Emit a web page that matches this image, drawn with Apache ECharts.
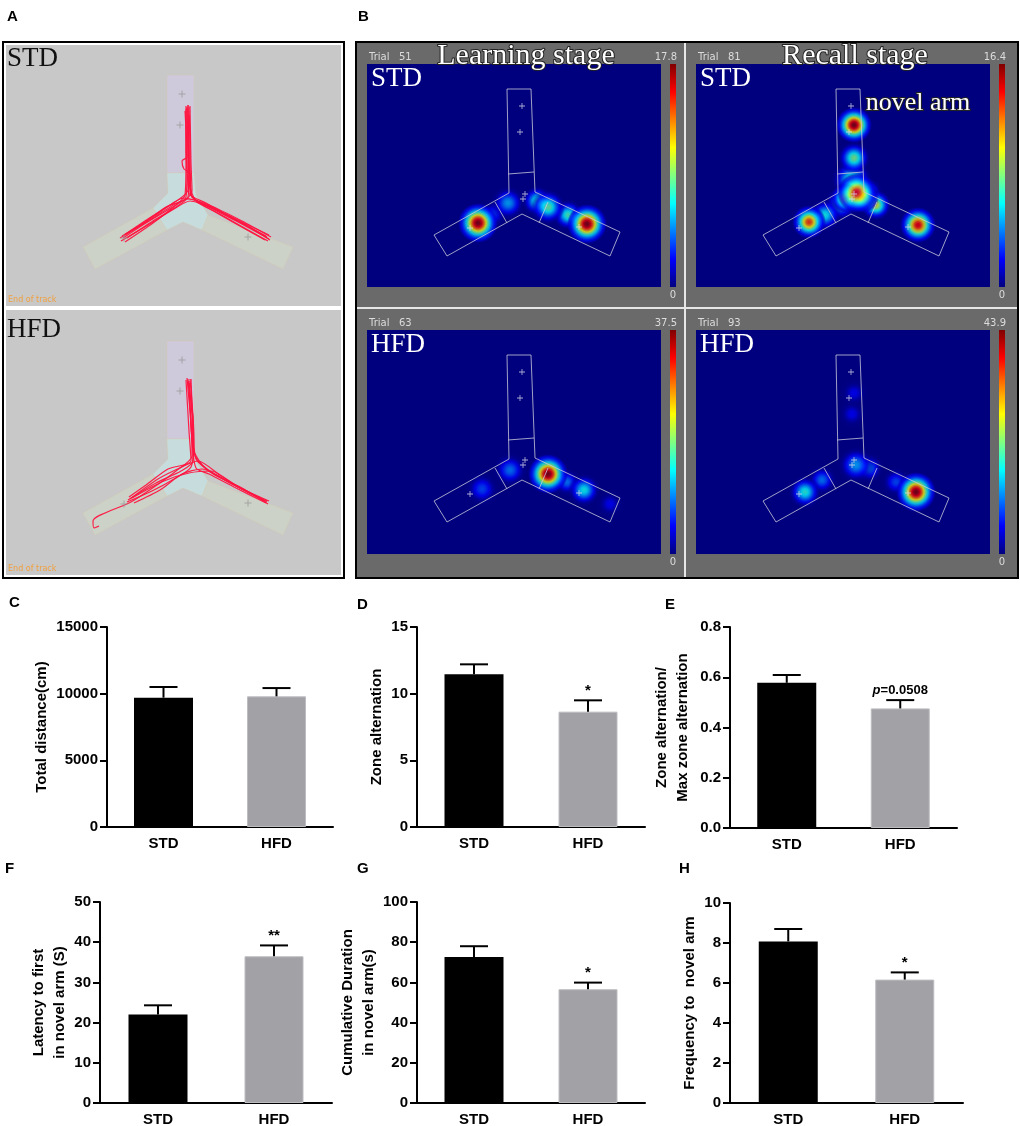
<!DOCTYPE html>
<html>
<head>
<meta charset="utf-8">
<script src="https://cdn.jsdelivr.net/npm/echarts@6/dist/echarts.min.js"></script>
<style>
html, body { margin: 0; padding: 0; background: #fff; }
#chart { width: 1020px; height: 1126px; }
</style>
</head>
<body>
<div id="chart"></div>
<script>
const groups = ['STD', 'HFD'];
const distMean = [9700, 9800];
const distSem = [800, 620];
const altMean = [11.45, 8.65];
const altSem = [0.75, 0.85];
const ratioMean = [0.578, 0.476];
const ratioSem = [0.031, 0.033];
const latMean = [22.0, 36.5];
const latSem = [2.3, 2.7];
const durMean = [72.6, 56.6];
const durSem = [5.4, 3.3];
const freqMean = [8.08, 6.17];
const freqSem = [0.62, 0.36];
const sigC = ['', ''];
const sigD = ['', '*'];
const sigE = ['', 'p=0.0508'];
const sigF = ['', '**'];
const sigG = ['', '*'];
const sigH = ['', '*'];

// panel A: Y-maze zones (local px of the track image)
const zoneArmTop = [[161, 30], [188, 30], [188, 128], [161, 128]];
const zoneCenter = [[161, 128], [188, 128], [190, 150], [202, 170], [196, 185], [177, 177], [161, 185], [147, 163], [162, 148]];
const zoneArmLeft = [[147, 163], [77, 202], [89, 224], [161, 185]];
const zoneArmRight = [[202, 170], [287, 202], [277, 224], [196, 185]];
const trackCrosses = [[176, 49], [174, 80], [118, 193], [242, 192]];

// panel A tracks
const tracksSTD = [
  [[117, 193], [140, 178], [165, 163], [180, 152], [181, 120], [181, 62]],
  [[181, 63], [182, 110], [183, 148], [200, 158], [230, 175], [261, 192]],
  [[263, 194], [232, 177], [205, 163], [186, 152], [183, 130], [182, 60]],
  [[180, 61], [180, 105], [182, 145], [172, 155], [145, 172], [118, 190]],
  [[115, 196], [142, 180], [168, 164], [184, 156], [210, 165], [240, 180], [264, 195]],
  [[260, 191], [228, 174], [198, 159], [178, 153], [150, 170], [120, 189]],
  [[183, 62], [184, 100], [185, 150], [208, 163], [238, 178], [263, 190]],
  [[119, 197], [147, 178], [170, 160], [179, 150], [180, 115], [180, 64]],
  [[182, 60], [183, 125], [182, 152], [160, 162], [135, 180], [114, 193]],
  [[262, 196], [235, 181], [212, 168], [190, 156], [184, 140], [183, 70]],
  [[179, 66], [181, 112], [176, 116], [178, 124], [184, 128], [185, 150], [199, 161], [259, 195]],
  [[116, 191], [144, 175], [171, 158], [183, 154], [203, 160], [236, 176], [265, 192]],
  [[184, 61], [185, 118], [186, 146], [176, 158], [150, 174], [121, 193]]
];
const tracksHFD = [
  [[122, 189], [150, 172], [175, 160], [187, 150], [187, 110], [182, 70]],
  [[181, 67], [184, 100], [188, 140], [200, 158], [230, 175], [259, 190]],
  [[260, 192], [228, 176], [203, 163], [190, 157], [186, 130], [183, 72]],
  [[182, 68], [185, 110], [186, 145], [170, 160], [148, 176], [125, 191], [87, 210], [88, 217], [93, 215]],
  [[124, 188], [152, 168], [178, 155], [192, 150], [215, 165], [240, 180], [261, 191]],
  [[258, 189], [226, 173], [196, 158], [176, 163], [154, 179], [128, 192]],
  [[183, 70], [186, 105], [189, 145], [206, 162], [236, 177], [262, 193]],
  [[121, 191], [146, 180], [168, 168], [185, 156], [188, 128], [184, 68]],
  [[261, 190], [232, 176], [205, 160], [183, 162], [158, 170], [126, 187]],
  [[180, 69], [183, 120], [185, 150], [162, 158], [140, 174], [123, 186]],
  [[185, 68], [187, 112], [190, 148], [212, 165], [245, 182], [263, 190]]
];

// panel B: maze outline in heatmap image px
const mazeOutline = [[140, 25], [164, 25], [168, 128], [253, 168], [243, 192], [155, 150], [80, 192], [67, 171], [142, 129], [140, 25]];
const mazeDividers = [[[141, 110], [167, 108]], [[128, 138], [140, 159]], [[181, 138], [172, 159]]];
const mazeCrosses = [[155, 42], [153, 68], [158, 130], [156, 135], [103, 164], [212, 163]];

// heat spots: [x, y, relative intensity, spread]
const heatLearnSTD = [[126, 150, 0.18, 30], [141, 139, 0.3, 34], [170, 137, 0.42, 30], [181, 143, 0.48, 34], [201, 151, 0.45, 30], [111, 159, 1.0, 40], [220, 160, 1.0, 40]];
const heatRecallSTD = [[145, 140, 0.35, 34], [172, 128, 0.35, 28], [156, 116, 0.45, 40], [129, 151, 0.4, 32], [158, 94, 0.5, 32], [180, 141, 0.6, 30], [113, 158, 0.82, 34], [150, 134, 0.7, 30], [168, 134, 0.7, 30], [161, 129, 0.9, 40], [222, 161, 0.9, 36], [158, 61, 1.0, 36]];
const heatLearnHFD = [[243, 174, 0.12, 30], [115, 159, 0.2, 34], [143, 140, 0.25, 34], [200, 152, 0.25, 28], [217, 160, 0.4, 32], [181, 144, 1.0, 40]];
const heatRecallHFD = [[158, 63, 0.12, 30], [156, 84, 0.12, 30], [200, 152, 0.2, 30], [173, 138, 0.25, 30], [126, 150, 0.25, 30], [160, 135, 0.3, 36], [109, 162, 0.42, 32], [220, 162, 1.0, 40]];
const trialNo = ['51', '81', '63', '93'];
const heatMax = ['17.8', '16.4', '37.5', '43.9'];

const sans = 'Arial, "Liberation Sans", Helvetica, sans-serif';
const serif = '"Liberation Serif", "Times New Roman", "DejaVu Serif", serif';

function jet(v) {
  const c = x => Math.max(0, Math.min(1, x));
  return [c(1.5 - Math.abs(4 * v - 3)), c(1.5 - Math.abs(4 * v - 2)), c(1.5 - Math.abs(4 * v - 1))];
}
function rgba(v, a) {
  const [r, g, b] = jet(v);
  return 'rgba(' + Math.round(r * 255) + ',' + Math.round(g * 255) + ',' + Math.round(b * 255) + ',' + a.toFixed(3) + ')';
}
// radial fill for one heat spot
function spotFill(p) {
  const stops = [];
  for (let k = 0; k <= 10; k++) {
    const f = k / 10;
    const v = p * Math.exp(-3 * f * f);
    const a = k === 10 ? 0 : Math.min(1, v / 0.1);
    stops.push({ offset: f, color: rgba(v, a) });
  }
  return { type: 'radial', x: 0.5, y: 0.5, r: 0.5, colorStops: stops };
}
function jetBar() {
  const stops = [0, 0.125, 0.25, 0.375, 0.5, 0.625, 0.75, 0.875, 1].map(t => ({ offset: t, color: rgba(t, 1) }));
  return { type: 'linear', x: 0, y: 1, x2: 0, y2: 0, colorStops: stops };
}

const grids = [];
const xAxes = [];
const yAxes = [];
const series = [];

function barPanel(box, mean, sem, sig, yMax, yStep, yName, nameGap, fmt) {
  const gi = grids.length;
  grids.push(Object.assign({ outerBoundsMode: 'none', containLabel: false }, box));
  xAxes.push({
    gridIndex: gi, type: 'category', data: groups,
    axisLine: { lineStyle: { color: '#000', width: 2 } },
    axisTick: { alignWithLabel: true, length: 6, lineStyle: { color: '#000', width: 2 } },
    axisLabel: { color: '#000', fontFamily: sans, fontWeight: 'bold', fontSize: 15, margin: 9 }
  });
  yAxes.push({
    gridIndex: gi, type: 'value', min: 0, max: yMax, interval: yStep,
    axisLine: { show: true, lineStyle: { color: '#000', width: 2 } },
    axisTick: { show: true, length: 7, lineStyle: { color: '#000', width: 2 } },
    splitLine: { show: false },
    axisLabel: { color: '#000', fontFamily: sans, fontWeight: 'bold', fontSize: 15, margin: 9, formatter: fmt || (v => String(v)) },
    name: yName, nameLocation: 'middle', nameRotate: 90, nameGap: nameGap,
    nameTextStyle: { color: '#000', fontFamily: sans, fontWeight: 'bold', fontSize: 15, lineHeight: 21 }
  });
  series.push({
    type: 'bar', xAxisIndex: gi, yAxisIndex: gi, barWidth: 59, silent: true, z: 2,
    data: mean.map((v, i) => ({
      value: v,
      itemStyle: i === 0 ? { color: '#000' } : { color: '#a2a2a6', borderColor: '#bdbdc1', borderWidth: 1 }
    }))
  });
  series.push({
    type: 'custom', xAxisIndex: gi, yAxisIndex: gi, silent: true, z: 3,
    data: mean.map((m, i) => [i, m, sem[i]]),
    encode: { x: 0, y: 1 },
    renderItem: function (params, api) {
      const i = api.value(0), m = api.value(1), s = api.value(2);
      const base = api.coord([i, m]);
      const top = api.coord([i, m + s]);
      const children = [
        { type: 'line', shape: { x1: base[0], y1: base[1], x2: top[0], y2: top[1] }, style: { stroke: '#000', lineWidth: 2 } },
        { type: 'line', shape: { x1: top[0] - 14, y1: top[1], x2: top[0] + 14, y2: top[1] }, style: { stroke: '#000', lineWidth: 2 } }
      ];
      const label = sig[params.dataIndex];
      if (label) {
        const isP = label.charAt(0) === 'p';
        children.push({
          type: 'text',
          style: {
            x: top[0], y: top[1] - (isP ? 3 : 2),
            text: isP ? '{i|p}' + label.slice(1) : label,
            rich: { i: { fontStyle: 'italic', fontWeight: 'bold', fontSize: 13, fontFamily: sans, fill: '#000' } },
            fill: '#000', font: 'bold ' + (isP ? 13 : 15) + 'px ' + sans,
            align: 'center', verticalAlign: 'bottom'
          }
        });
      }
      return { type: 'group', children: children };
    }
  });
}

barPanel({ left: 107, top: 627, width: 226, height: 200 }, distMean, distSem, sigC, 15000, 5000, 'Total distance(cm)', 52, null);
barPanel({ left: 417, top: 627, width: 228, height: 200 }, altMean, altSem, sigD, 15, 5, 'Zone alternation', 26, null);
barPanel({ left: 730, top: 627, width: 227, height: 201 }, ratioMean, ratioSem, sigE, 0.8, 0.2, 'Zone alternation/\nMax zone alternation', 37, v => v.toFixed(1));
barPanel({ left: 100, top: 902, width: 232, height: 201 }, latMean, latSem, sigF, 50, 10, 'Latency to first\nin novel arm (S)', 30, null);
barPanel({ left: 417, top: 902, width: 228, height: 201 }, durMean, durSem, sigG, 100, 20, 'Cumulative Duration\nin novel arm(s)', 35, null);
barPanel({ left: 730, top: 903, width: 233, height: 200 }, freqMean, freqSem, sigH, 10, 2, 'Frequency to  novel arm', 27, null);

// plain pixel-like grids for the track and heat-map images
function imageGrid(box, w, h) {
  const gi = grids.length;
  grids.push(Object.assign({ outerBoundsMode: 'none', containLabel: false }, box));
  xAxes.push({ gridIndex: gi, type: 'value', min: 0, max: w, show: false });
  yAxes.push({ gridIndex: gi, type: 'value', min: 0, max: h, inverse: true, show: false });
  return gi;
}

const zonesA = [zoneArmLeft, zoneArmRight, zoneArmTop, zoneCenter];
const zoneColors = ['#ccd2c7', '#ccd2c7', '#cfcadb', '#c7dcdc'];

function trackPanel(gi, tracks) {
  series.push({
    type: 'custom', xAxisIndex: gi, yAxisIndex: gi, silent: true, z: 2,
    data: zonesA.map(() => [0, 0]),
    renderItem: function (params, api) {
      const pts = zonesA[params.dataIndex].map(p => api.coord(p));
      return { type: 'polygon', shape: { points: pts }, style: { fill: zoneColors[params.dataIndex], stroke: 'rgba(220,200,160,0.5)', lineWidth: 0.5 } };
    }
  });
  tracks.forEach(t => {
    series.push({
      type: 'line', xAxisIndex: gi, yAxisIndex: gi, silent: true, z: 3,
      data: t, symbol: 'none', smooth: 0.25,
      lineStyle: { color: '#ff1440', width: 1.2, opacity: 0.95 }
    });
  });
  series.push({
    type: 'scatter', xAxisIndex: gi, yAxisIndex: gi, silent: true, z: 4,
    data: trackCrosses, symbol: 'path://M3,0H4V3H7V4H4V7H3V4H0V3H3Z', symbolSize: 7,
    itemStyle: { color: '#9a9a9a' }
  });
}

function heatPanel(gi, spots) {
  const sorted = spots.slice().sort((a, b) => a[2] - b[2]);
  series.push({
    type: 'scatter', xAxisIndex: gi, yAxisIndex: gi, silent: true, z: 3,
    data: sorted.map(s => ({ value: [s[0], s[1]], symbolSize: s[3], itemStyle: { color: spotFill(s[2]) } }))
  });
  series.push({
    type: 'custom', xAxisIndex: gi, yAxisIndex: gi, silent: true, z: 4,
    data: [[0, 0]],
    renderItem: function (params, api) {
      const lines = [mazeOutline].concat(mazeDividers);
      return {
        type: 'group',
        children: lines.map(l => ({
          type: 'polyline', shape: { points: l.map(p => api.coord(p)) },
          style: { stroke: '#c9c9d9', fill: null, lineWidth: 0.8 }
        }))
      };
    }
  });
  series.push({
    type: 'scatter', xAxisIndex: gi, yAxisIndex: gi, silent: true, z: 5,
    data: mazeCrosses, symbol: 'path://M3,0H4V3H7V4H4V7H3V4H0V3H3Z', symbolSize: 6,
    itemStyle: { color: '#d8d8e8' }
  });
}

trackPanel(imageGrid({ left: 6, top: 45, width: 335, height: 261 }, 335, 261), tracksSTD);
trackPanel(imageGrid({ left: 6, top: 311, width: 335, height: 264 }, 335, 264), tracksHFD);

const heatBoxes = [
  { left: 367, top: 64, width: 294, height: 223 },
  { left: 696, top: 64, width: 294, height: 223 },
  { left: 367, top: 330, width: 294, height: 224 },
  { left: 696, top: 330, width: 294, height: 224 }
];
const heatSets = [heatLearnSTD, heatRecallSTD, heatLearnHFD, heatRecallHFD];
heatBoxes.forEach((b, k) => heatPanel(imageGrid(b, 294, b.height), heatSets[k]));

// frames, colour bars and overlaid labels
const graphic = [
  { type: 'rect', z: 0, shape: { x: 2, y: 41, width: 343, height: 538 }, style: { fill: '#000' } },
  { type: 'rect', z: 0, shape: { x: 4, y: 43, width: 339, height: 534 }, style: { fill: '#fff' } },
  { type: 'rect', z: 0, shape: { x: 6, y: 45, width: 335, height: 261 }, style: { fill: '#c8c8c8' } },
  { type: 'rect', z: 0, shape: { x: 6, y: 310, width: 335, height: 265 }, style: { fill: '#c8c8c8' } },
  { type: 'rect', z: 0, shape: { x: 355, y: 41, width: 664, height: 538 }, style: { fill: '#000' } },
  { type: 'rect', z: 0, shape: { x: 357, y: 43, width: 660, height: 534 }, style: { fill: '#6a6a6a' } },
  { type: 'rect', z: 0, shape: { x: 684, y: 43, width: 2, height: 534 }, style: { fill: '#e6e6e6' } },
  { type: 'rect', z: 0, shape: { x: 357, y: 307, width: 660, height: 2 }, style: { fill: '#e6e6e6' } }
];
heatBoxes.forEach((b, k) => {
  graphic.push({ type: 'rect', z: 1, shape: { x: b.left, y: b.top, width: b.width, height: b.height }, style: { fill: '#00007f' } });
  const cbx = b.left + 303;
  graphic.push({ type: 'rect', z: 1, shape: { x: cbx, y: b.top, width: 6, height: b.height }, style: { fill: jetBar() } });
  graphic.push({ type: 'text', z: 10, x: b.left + 2, y: b.top - 12, style: { text: 'Trial   ' + trialNo[k], fill: '#dcdcdc', font: '10px "DejaVu Sans", sans-serif' } });
  graphic.push({ type: 'text', z: 10, x: cbx + 7, y: b.top - 12, style: { text: heatMax[k], fill: '#dcdcdc', font: '10px "DejaVu Sans", sans-serif', align: 'right' } });
  graphic.push({ type: 'text', z: 10, x: cbx + 3, y: b.top + b.height + 3, style: { text: '0', fill: '#dcdcdc', font: '10px "DejaVu Sans", sans-serif', align: 'center' } });
  graphic.push({ type: 'text', z: 10, x: b.left + 4, y: b.top + 1, style: { text: k < 2 ? 'STD' : 'HFD', fill: '#fff', font: '27px ' + serif } });
});
graphic.push(
  { type: 'text', z: 10, x: 526, y: 56, style: { text: 'Learning stage', fill: '#fff', stroke: '#222', lineWidth: 2, font: '30px ' + serif, align: 'center', verticalAlign: 'middle' } },
  { type: 'text', z: 10, x: 855, y: 56, style: { text: 'Recall stage', fill: '#fff', stroke: '#222', lineWidth: 2, font: '30px ' + serif, align: 'center', verticalAlign: 'middle' } },
  { type: 'text', z: 10, x: 918, y: 103, style: { text: 'novel arm', fill: '#fff', stroke: '#222', lineWidth: 2, font: '26px ' + serif, align: 'center', verticalAlign: 'middle' } },
  { type: 'text', z: 10, x: 7, y: 45, style: { text: 'STD', fill: '#111', font: '27px ' + serif } },
  { type: 'text', z: 10, x: 7, y: 316, style: { text: 'HFD', fill: '#111', font: '27px ' + serif } },
  { type: 'text', z: 10, x: 8, y: 296, style: { text: 'End of track', fill: '#f0a040', font: '8px "DejaVu Sans", sans-serif' } },
  { type: 'text', z: 10, x: 8, y: 565, style: { text: 'End of track', fill: '#f0a040', font: '8px "DejaVu Sans", sans-serif' } }
);
[['A', 7, 9], ['B', 358, 9], ['C', 9, 595], ['D', 357, 597], ['E', 665, 597], ['F', 5, 861], ['G', 357, 861], ['H', 679, 861]].forEach(l => {
  graphic.push({ type: 'text', z: 10, x: l[1], y: l[2], style: { text: l[0], fill: '#000', font: 'bold 15px ' + sans } });
});

const chart = echarts.init(document.getElementById('chart'), null, { renderer: 'canvas' });
chart.setOption({
  animation: false,
  backgroundColor: '#fff',
  grid: grids,
  xAxis: xAxes,
  yAxis: yAxes,
  series: series,
  graphic: graphic
});
</script>
</body>
</html>
